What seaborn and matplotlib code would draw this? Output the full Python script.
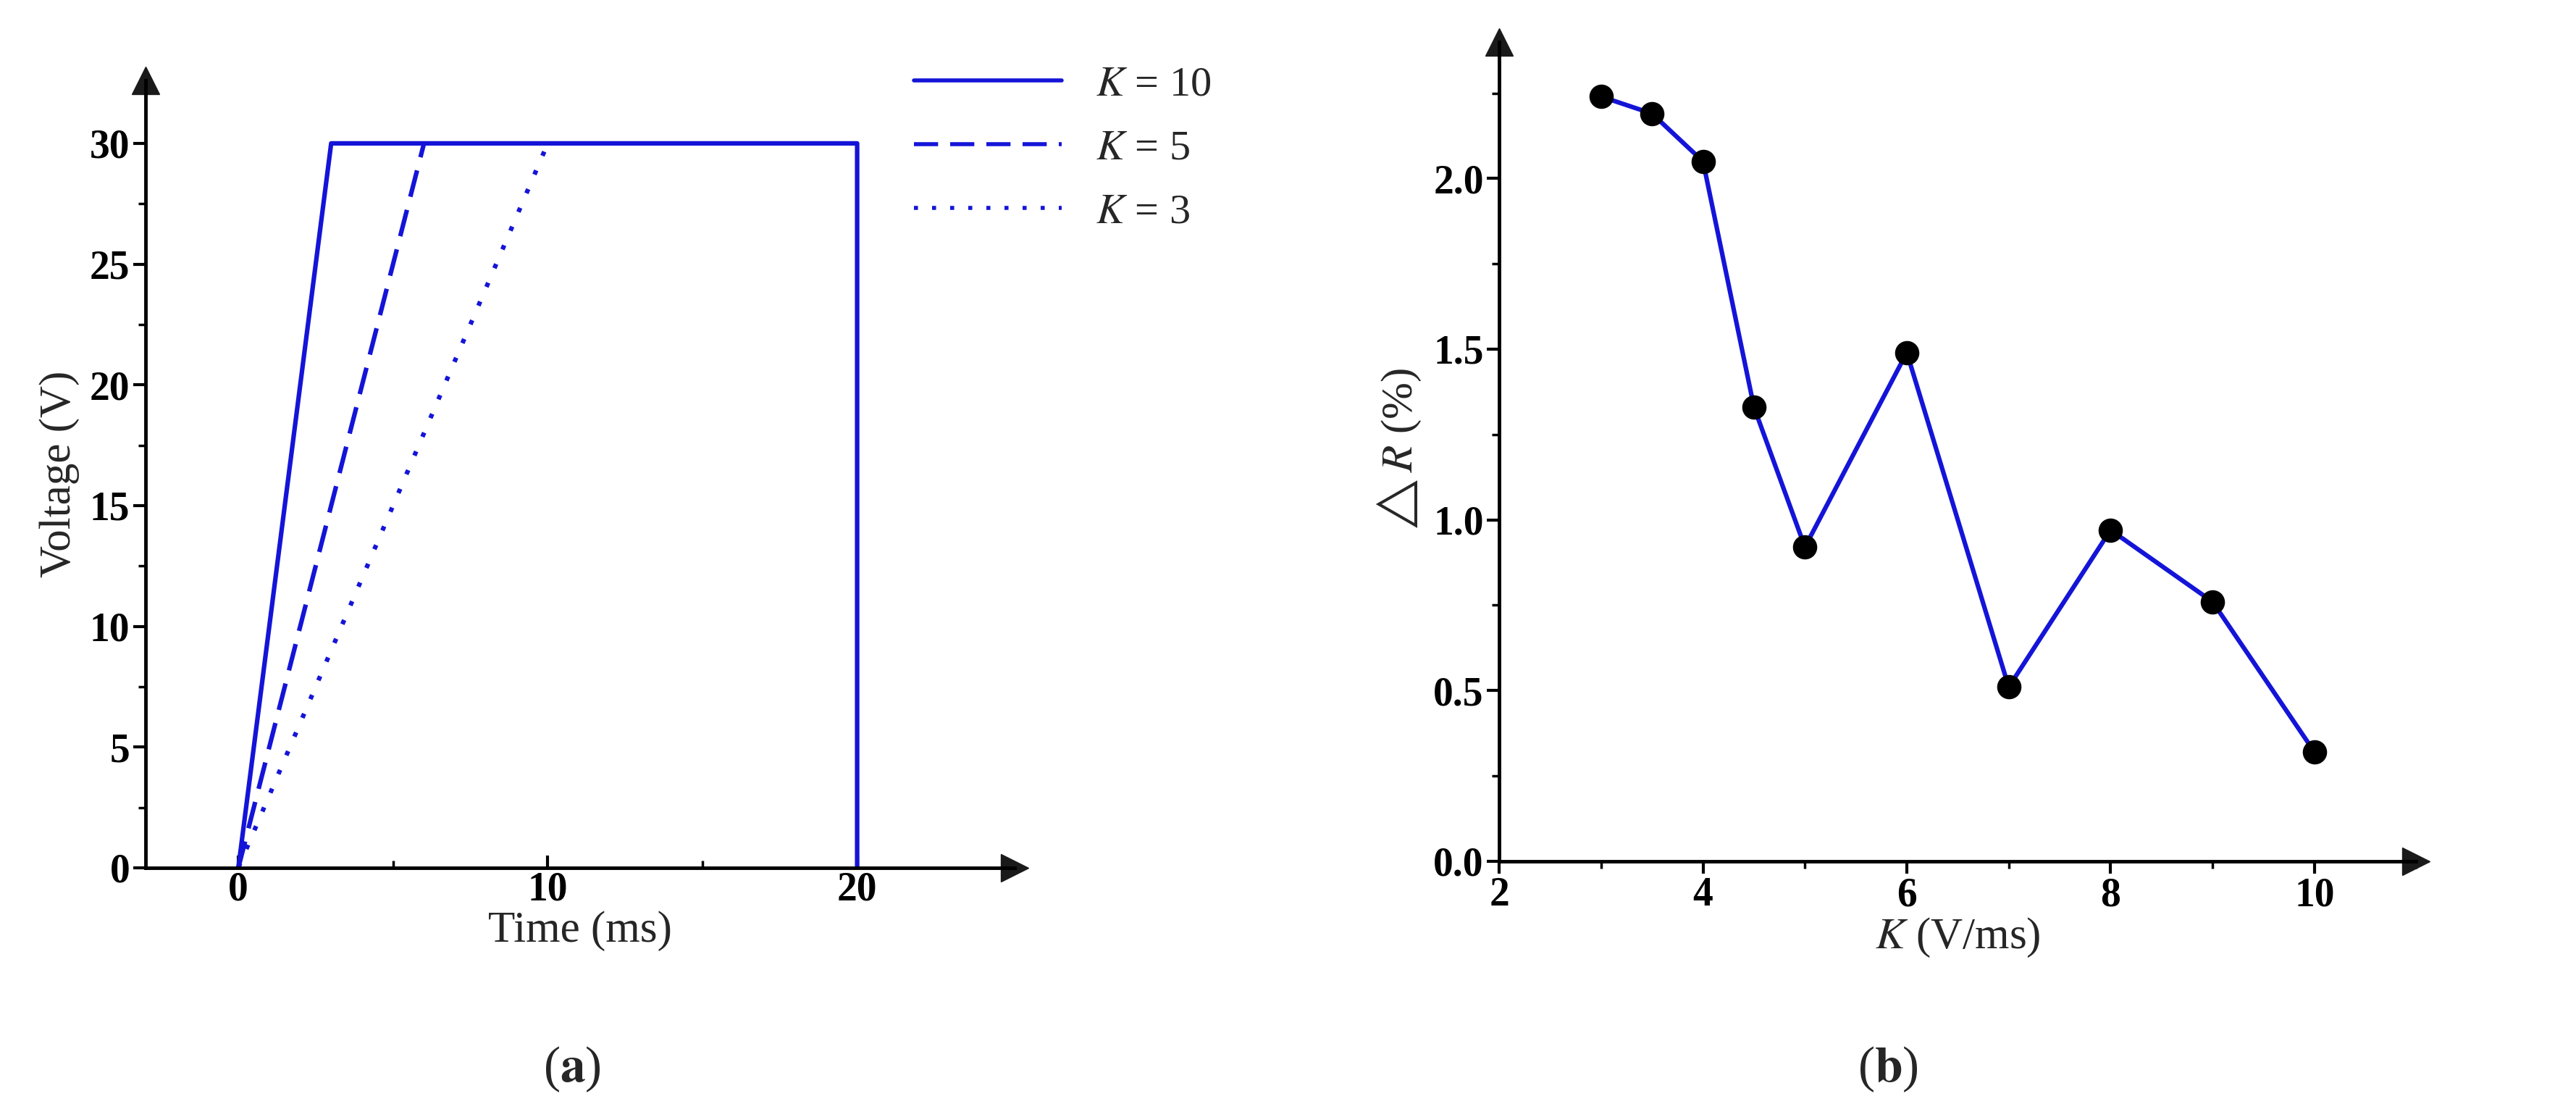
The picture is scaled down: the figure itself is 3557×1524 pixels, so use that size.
import matplotlib
matplotlib.use("Agg")
import matplotlib.pyplot as plt
import seaborn as sns
import pandas as pd
from matplotlib.ticker import MultipleLocator

sns.set_theme(style="ticks")
plt.rcParams['font.family'] = ['Liberation Serif', 'DejaVu Serif']
plt.rcParams['mathtext.fontset'] = 'stix'

t_k10 = [0, 3, 20, 20]
v_k10 = [0, 30, 30, 0]
t_k5 = [0, 6]
v_k5 = [0, 30]
t_k3 = [0, 10]
v_k3 = [0, 30]

k_vals = [3, 3.5, 4, 4.5, 5, 6, 7, 8, 9, 10]
dr_vals = [2.24, 2.19, 2.05, 1.33, 0.92, 1.49, 0.51, 0.97, 0.76, 0.32]

BLUE = "#1414d8"
FS = 40

fig = plt.figure(figsize=(35.57, 15.24), dpi=100)
ax1 = fig.add_axes([0.0565, 0.214, 0.3375, 0.713])
ax2 = fig.add_axes([0.582, 0.22, 0.356, 0.742])

lw = 4.5
sns.lineplot(x=t_k10, y=v_k10, ax=ax1, sort=False, estimator=None, color=BLUE, lw=lw, label=r"$K$ = 10")
sns.lineplot(x=t_k5, y=v_k5, ax=ax1, sort=False, estimator=None, color=BLUE, lw=lw, label=r"$K$ = 5")
sns.lineplot(x=t_k3, y=v_k3, ax=ax1, sort=False, estimator=None, color=BLUE, lw=lw, label=r"$K$ = 3")
ax1.lines[1].set_dashes([6, 3])
ax1.lines[2].set_dashes([1, 3.5])
ax1.set_xlim(-3.0, 25.1)
ax1.set_ylim(0, 32.6)
ax1.xaxis.set_major_locator(MultipleLocator(10))
ax1.xaxis.set_minor_locator(MultipleLocator(5))
ax1.yaxis.set_major_locator(MultipleLocator(5))
ax1.yaxis.set_minor_locator(MultipleLocator(2.5))
ax1.set_xlabel("Time (ms)", fontsize=FS + 4, labelpad=2)
ax1.set_ylabel("Voltage (V)", fontsize=FS + 4, labelpad=10)
leg = fig.legend(*ax1.get_legend_handles_labels(), loc="upper left", bbox_to_anchor=(0.34, 0.975),
                 frameon=False, fontsize=FS + 2, handlelength=3.5, labelspacing=0.6)
ax1.get_legend().remove()
for l in leg.get_lines():
    l.set_linewidth(4)

sns.lineplot(x=k_vals, y=dr_vals, ax=ax2, sort=False, estimator=None, color=BLUE, lw=lw)
sns.scatterplot(x=k_vals, y=dr_vals, ax=ax2, color="black", s=500, zorder=5, edgecolor="black")
ax2.set_xlim(2, 11.0)
ax2.set_ylim(0, 2.40)
ax2.xaxis.set_major_locator(MultipleLocator(2))
ax2.xaxis.set_minor_locator(MultipleLocator(1))
ax2.yaxis.set_major_locator(MultipleLocator(0.5))
ax2.yaxis.set_minor_locator(MultipleLocator(0.25))
ax2.yaxis.set_major_formatter(matplotlib.ticker.FormatStrFormatter("%.1f"))
ax2.set_xlabel(r"$K$ (V/ms)", fontsize=FS + 4, labelpad=2)
ax2.set_ylabel(r"$\triangle R$ (%)", fontsize=FS + 4, labelpad=10)

for ax in (ax1, ax2):
    sns.despine(ax=ax)
    for s in ("left", "bottom"):
        ax.spines[s].set_linewidth(3.5)
        ax.spines[s].set_color("black")
    ax.tick_params(which="major", labelsize=FS, width=3, length=12, colors="black")
    ax.tick_params(which="minor", width=2.5, length=7, colors="black")
    for lab in ax.get_xticklabels() + ax.get_yticklabels():
        lab.set_fontweight("bold")
    ax.plot(1, 0, ">k", transform=ax.transAxes, clip_on=False, ms=28)
    ax.plot(0, 1, "^k", transform=ax.transAxes, clip_on=False, ms=28)

ax1.tick_params(axis="x", which="both", direction="in")

fig.text(0.222, 0.02, r"($\mathbf{a}$)", fontsize=FS + 10, ha="center")
fig.text(0.733, 0.02, r"($\mathbf{b}$)", fontsize=FS + 10, ha="center")

fig.savefig("out.png", dpi=100)
